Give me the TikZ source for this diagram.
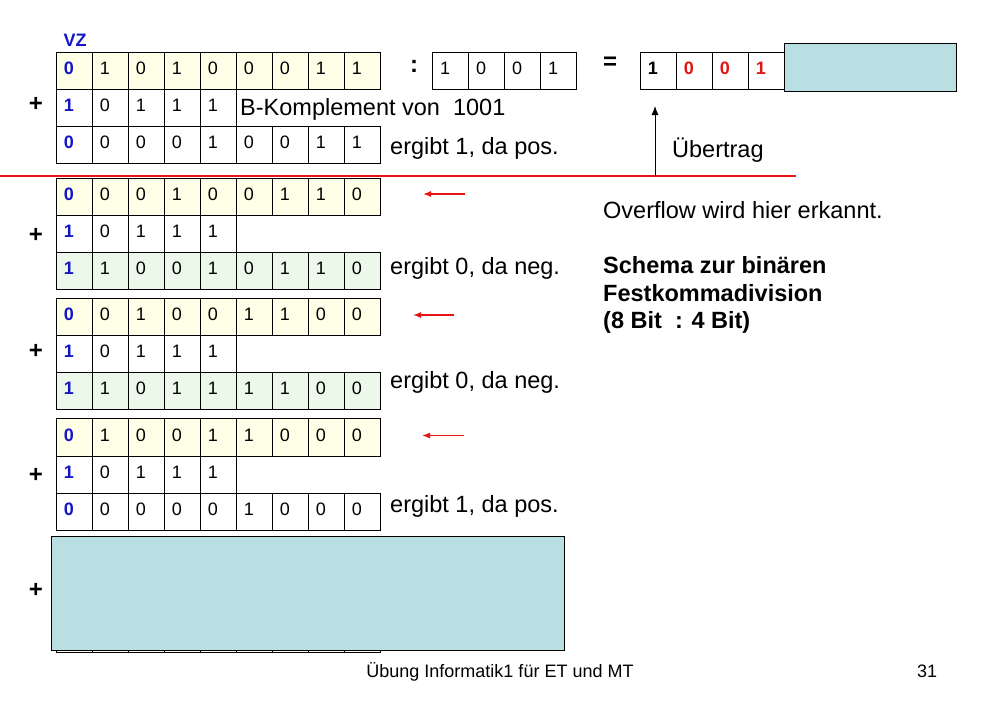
\documentclass[tikz,border=0pt]{standalone}
\usepackage{fontspec}
\setmainfont{Liberation Sans}
\usetikzlibrary{arrows.meta}
\definecolor{cellyellow}{RGB}{255,254,230}
\definecolor{cellgreen}{RGB}{236,248,234}
\definecolor{boxcyan}{RGB}{186,223,227}
\definecolor{vzblue}{RGB}{20,20,200}
\definecolor{digitred}{RGB}{225,20,20}
\definecolor{linered}{RGB}{230,20,20}
\newcommand{\cellfont}{\fontsize{18}{21}\selectfont}
\newcommand{\vzfont}{\bfseries\fontsize{18}{21}\selectfont\color{vzblue}}
\newcommand{\bigfont}{\fontsize{23.5}{28}\selectfont}
\newcommand{\bitrow}[4]{%
  \foreach \d [count=\i from 0] in {#4}{%
    \ifnum\i=0\relax
      \node[cell,fill=#3,font=\vzfont] (#1-\i) at ({55.5+36*\i},#2) {\d};
    \else
      \node[cell,fill=#3] (#1-\i) at ({55.5+36*\i},#2) {\d};
    \fi
  }}
\tikzset{
  cell/.style={draw=black, line width=0.75pt, anchor=north west,
    minimum width=36pt, minimum height=37.2pt, inner xsep=8pt, inner ysep=0pt,
    text width=20pt, align=left, text height=12.5pt, text depth=5pt, font=\cellfont},
  dcell/.style={cell, font=\fontsize{18}{21}\selectfont},
  rcell/.style={cell, font=\bfseries\fontsize{18}{21}\selectfont},
  cyanbox/.style={draw=black, line width=0.75pt, fill=boxcyan, anchor=north west, inner sep=0pt},
  txt/.style={anchor=base west, inner sep=0pt, font=\bigfont},
  btxt/.style={anchor=base west, inner sep=0pt, font=\bfseries\bigfont},
  op/.style={inner sep=0pt, font=\bfseries\fontsize{24}{28}\selectfont},
  foot/.style={anchor=base, inner sep=0pt, font=\fontsize{18}{21}\selectfont},
  redarrow/.style={draw=linered, line width=1.3pt, -{Latex[length=8pt,width=6pt]}},
  carryarrow/.style={draw=black, line width=0.8pt, -{Latex[length=9pt,width=7pt]}},
  redline/.style={draw=linered, line width=2.6pt}
}
\begin{document}
\begin{tikzpicture}[x=1pt,y=-1pt]
\fill[white] (0,0) rectangle (1000,720);
\useasboundingbox (0,0) rectangle (1000,720);

% VZ label
\node[inner sep=0pt, font=\bfseries\fontsize{18}{21}\selectfont\color{vzblue}] (vz) at (75,40) {VZ};

% group 1
\bitrow{ga}{51.5}{cellyellow}{0,1,0,1,0,0,0,1,1}
\bitrow{gb}{88.7}{white}{1,0,1,1,1}
\bitrow{gc}{125.9}{white}{0,0,0,0,1,0,0,1,1}
% group 2
\bitrow{ha}{177.5}{cellyellow}{0,0,0,1,0,0,1,1,0}
\bitrow{hb}{214.7}{white}{1,0,1,1,1}
\bitrow{hc}{251.9}{cellgreen}{1,1,0,0,1,0,1,1,0}
% group 3
\bitrow{ia}{297.7}{cellyellow}{0,0,1,0,0,1,1,0,0}
\bitrow{ib}{334.9}{white}{1,0,1,1,1}
\bitrow{ic}{372.1}{cellgreen}{1,1,0,1,1,1,1,0,0}
% group 4
\bitrow{ja}{418.3}{cellyellow}{0,1,0,0,1,1,0,0,0}
\bitrow{jb}{455.5}{white}{1,0,1,1,1}
\bitrow{jc}{492.7}{white}{0,0,0,0,0,1,0,0,0}
% group 5 (covered)
\foreach \i in {0,...,8}{\node[cell] (kc-\i) at ({55.5+36*\i},614.9) {};}
\node[cyanbox, minimum width=512.7pt, minimum height=114pt] (coverbox) at (51.3,536) {};

% plus signs
\node[op] (p1) at (36,104) {+};
\node[op] (p2) at (36,235) {+};
\node[op] (p3) at (36,351) {+};
\node[op] (p4) at (36,475) {+};
\node[op] (p5) at (36,590) {+};

% divisor and result
\node[op] (colon) at (414,66.7) {:};
\foreach \d [count=\i from 0] in {1,0,0,1}{\node[dcell] (dv-\i) at ({431.7+36*\i},51.7) {\d};}
\node[op] (equals) at (610,63) {=};
\node[rcell] (res-0) at (639.5,51.5) {1};
\node[rcell, text=digitred] (res-1) at (675.5,51.5) {0};
\node[rcell, text=digitred] (res-2) at (711.5,51.5) {0};
\node[rcell, text=digitred] (res-3) at (747.5,51.5) {1};
\node[cyanbox, minimum width=172.3pt, minimum height=48pt] (restbox) at (784,43.3) {};

% red separation line and carry arrow
\coordinate (redL) at (0,176);
\coordinate (redR) at (795.7,176);
\draw[redline] (redL) -- (redR);
\coordinate (carryfoot) at (655,176);
\coordinate (carrytip) at (655,106);
\draw[carryarrow] (carryfoot) -- (carrytip);

% red shift arrows
\coordinate (s2a) at (464.6,194); \coordinate (s2b) at (423,194);
\coordinate (s3a) at (454,315);   \coordinate (s3b) at (413,315);
\coordinate (s4a) at (464,435.5); \coordinate (s4b) at (422,435.5);
\draw[redarrow] (s2a) -- (s2b);
\draw[redarrow] (s3a) -- (s3b);
\draw[redarrow] (s4a) -- (s4b);

% texts
\node[txt] (bk) at (240,115) {B-Komplement von\ \ 1001};
\node[txt] (e1) at (390,154) {ergibt 1, da pos.};
\node[txt] (e2) at (390,274) {ergibt 0, da neg.};
\node[txt] (e3) at (390,388) {ergibt 0, da neg.};
\node[txt] (e4) at (390,512) {ergibt 1, da pos.};
\node[txt] (ueb) at (672,157.7) {Übertrag};
\node[txt] (ovf) at (603,218.3) {Overflow wird hier erkannt.};
\node[btxt] (s1) at (603,273.3) {Schema zur binären};
\node[btxt] (s2) at (603,301) {Festkommadivision};
\node[btxt] (s3) at (603,328.7) {(8 Bit\ \ : 4 Bit)};

% footer
\node[foot] (footer) at (500,677.7) {Übung Informatik1 für ET und MT};
\node[foot] (page) at (927,677.7) {31};
\end{tikzpicture}
\end{document}
